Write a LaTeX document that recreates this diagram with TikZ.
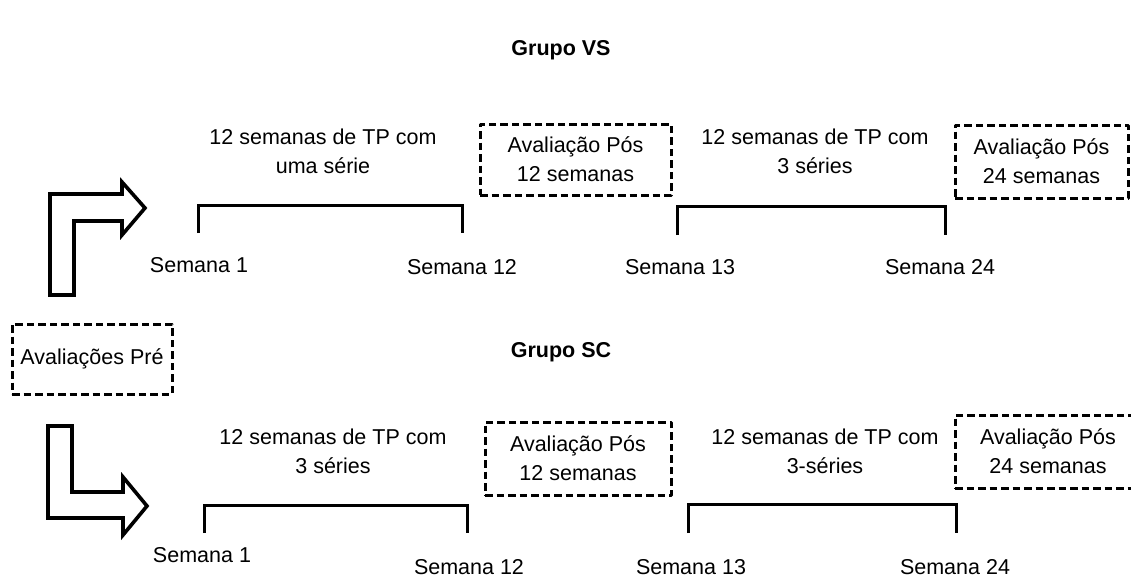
\documentclass[tikz,border=0pt]{standalone}
\usepackage{fontspec}
\setmainfont{Liberation Sans}
\begin{document}
\begin{tikzpicture}[x=1pt,y=-1pt,
  txt/.style={inner sep=0pt,align=center,font=\fontsize{21.5}{29}\selectfont},
  ttl/.style={txt,font=\fontsize{21.5}{29}\selectfont\bfseries},
  avbox/.style={txt,draw,line width=3pt,dash pattern=on 7.5pt off 4pt,line join=round},
  bracket/.style={line width=3pt},
  bigarrow/.style={line width=3.6pt,line join=miter}]
  \useasboundingbox (0,0) rectangle (1131,581);

  % Grupo VS
  \node[ttl] (tvs) at (561,50) {Grupo VS};
  \node[txt] (vs1) at (323,151) {12 semanas de TP com\\uma série};
  \node[txt] (vs2) at (815,151) {12 semanas de TP com\\3 séries};
  \node[avbox,minimum width=191,minimum height=71] (vsp12) at (575.5,159.5) {Avaliação Pós\\12 semanas};
  \node[avbox,minimum width=173,minimum height=73] (vsp24) at (1041.5,161.5) {Avaliação Pós\\24 semanas};
  \node[txt] (vss1) at (199,265) {Semana 1};
  \node[txt] (vss12) at (462,267) {Semana 12};
  \node[txt] (vss13) at (680,267) {Semana 13};
  \node[txt] (vss24) at (940,267) {Semana 24};
  \coordinate (va) at (198,233);
  \coordinate (vb) at (462,233);
  \coordinate (vc) at (677,235);
  \coordinate (vd) at (945,235);
  \draw[bracket] (va) -- ++(0,-28) -| (vb);
  \draw[bracket] (vc) -- ++(0,-29) -| (vd);

  % Avaliacoes Pre
  \node[avbox,minimum width=160,minimum height=70] (pre) at (92,359) {Avaliações Pré};
  \draw[bigarrow] (50,295) -- (50,194) -- (122,194) -- (122,182) -- (145,208)
    -- (122,235) -- (122,221) -- (74,221) -- (74,295) -- cycle;
  \draw[bigarrow] (48,426) -- (72,426) -- (72,492) -- (123,492) -- (123,477)
    -- (147,506) -- (123,535) -- (123,518) -- (48,518) -- cycle;

  % Grupo SC
  \node[ttl] (tsc) at (561,352) {Grupo SC};
  \node[txt] (sc1) at (333,451) {12 semanas de TP com\\3 séries};
  \node[txt] (sc2) at (825,451) {12 semanas de TP com\\3-séries};
  \node[avbox,minimum width=186,minimum height=73] (scp12) at (578,458.5) {Avaliação Pós\\12 semanas};
  \node[avbox,minimum width=186,minimum height=73] (scp24) at (1048,451.5) {Avaliação Pós\\24 semanas};
  \node[txt] (scs1) at (202,555) {Semana 1};
  \node[txt] (scs12) at (469,567) {Semana 12};
  \node[txt] (scs13) at (691,567) {Semana 13};
  \node[txt] (scs24) at (955,567) {Semana 24};
  \coordinate (sa) at (204,533);
  \coordinate (sb) at (467,533);
  \coordinate (sc) at (688,533);
  \coordinate (sd) at (956,533);
  \draw[bracket] (sa) -- ++(0,-28) -| (sb);
  \draw[bracket] (sc) -- ++(0,-29) -| (sd);
\end{tikzpicture}
\end{document}
